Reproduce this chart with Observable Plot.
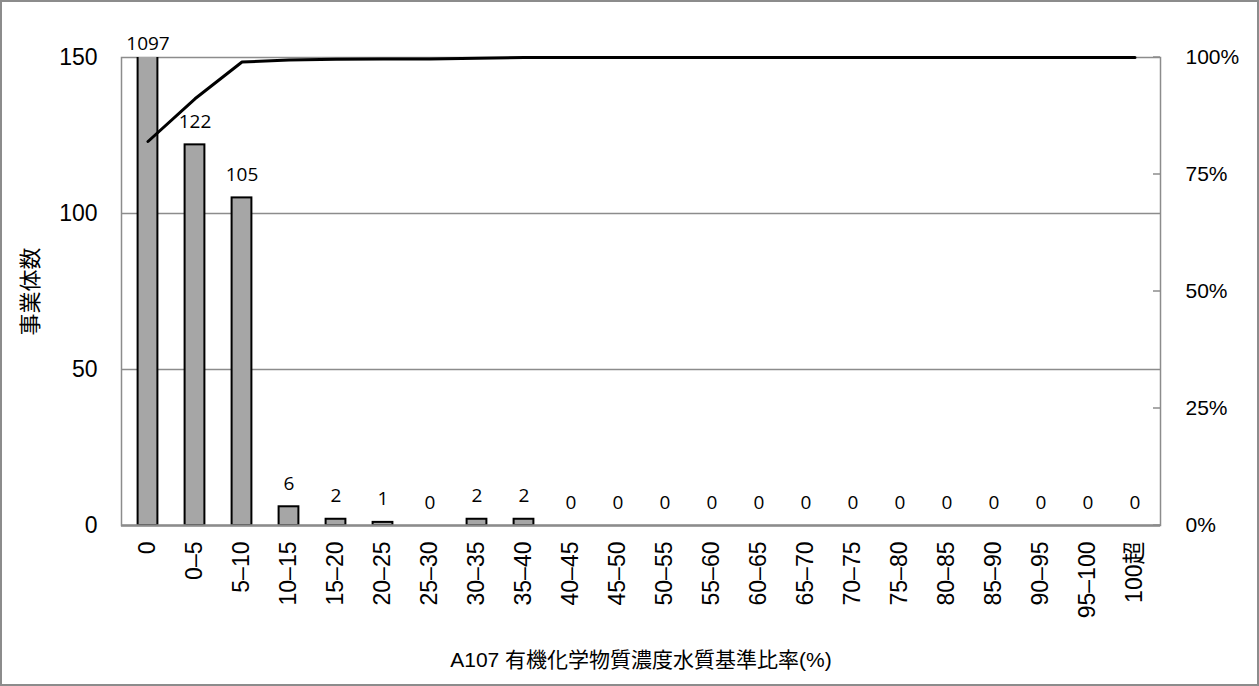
<!DOCTYPE html>
<html>
<head>
<meta charset="utf-8">
<script src="https://cdn.jsdelivr.net/npm/d3@7"></script>
<script src="https://cdn.jsdelivr.net/npm/@observablehq/plot@0.6"></script>
<style>
  html, body { margin: 0; padding: 0; background: #fff; }
  #chart svg { display: block; outline: 2px solid #8c8c8c; outline-offset: -2px; }
</style>
</head>
<body>
<div id="chart"></div>
<script>
const categories = ["0","0–5","5–10","10–15","15–20","20–25","25–30","30–35","35–40","40–45","45–50","50–55","55–60","60–65","65–70","70–75","75–80","80–85","85–90","90–95","95–100","100超"];
const counts = [1097,122,105,6,2,1,0,2,2,0,0,0,0,0,0,0,0,0,0,0,0,0];
const leftTicks = [0,50,100,150];
const rightTicks = [0,25,50,75,100];
const yTitle = "事業体数";
const xTitle = "A107 有機化学物質濃度水質基準比率(%)";

const yMax = 150;
const total = d3.sum(counts);
const cum = Array.from(d3.cumsum(counts));
const data = categories.map((c, i) => ({cat: c, n: counts[i], pct: cum[i] / total * 100}));

const axisFont = "'Liberation Sans', 'Noto Sans CJK JP', sans-serif";
const labelFont = "'Open Sans', sans-serif";

const chart = Plot.plot({
  width: 1259,
  height: 686,
  marginLeft: 121,
  marginRight: 99,
  marginTop: 57,
  marginBottom: 161,
  style: {fontFamily: axisFont, fontSize: "22px", color: "#000", background: "#fff"},
  x: {domain: categories, padding: 0, label: null},
  y: {domain: [0, yMax], label: null},
  marks: [
    Plot.gridY(leftTicks.filter(d => d > 0 && d < yMax), {stroke: "#8c8c8c", strokeOpacity: 1, strokeWidth: 1.5}),
    Plot.frame({stroke: "#8c8c8c", strokeWidth: 1.5}),
    Plot.barY(data, {x: "cat", y: "n", fill: "#a6a6a6", stroke: "#000", strokeWidth: 2, insetLeft: 13.6, insetRight: 13.6, clip: true}),
    Plot.ruleY([0], {stroke: "#8c8c8c", strokeWidth: 2.5}),
    Plot.lineY(data, {x: "cat", y: d => d.pct / 100 * yMax, stroke: "#000", strokeWidth: 3}),
    Plot.text(data.filter(d => d.n <= yMax), {x: "cat", y: "n", text: d => String(d.n), dy: -23, fontFamily: labelFont, fontSize: 19, fill: "#000"}),
    Plot.text(data.filter(d => d.n > yMax), {x: "cat", y: () => yMax, text: d => String(d.n), dy: -14, fontFamily: labelFont, fontSize: 19, fill: "#000"}),
    Plot.axisY(leftTicks, {anchor: "left", tickSize: 0, tickPadding: 24, label: null, fontSize: 23}),
    Plot.axisY(rightTicks.map(p => p / 100 * yMax), {anchor: "right", tickSize: 0, tickPadding: 25, textAnchor: "start", tickFormat: d => Math.round(d / yMax * 100) + "%", label: null, fontSize: 21}),
    Plot.axisX({anchor: "bottom", tickSize: 0, tickPadding: 16, tickRotate: -90, label: null, fontSize: 23}),
    Plot.text([yTitle], {frameAnchor: "left", dx: -91, rotate: -90, textAnchor: "middle", fontSize: 22, fill: "#000", fontFamily: axisFont}),
    Plot.text([xTitle], {frameAnchor: "bottom", dy: 141, textAnchor: "middle", fontSize: 21, fill: "#000", fontFamily: axisFont})
  ]
});

// inward tick marks on the right axis, drawn at positions given by the y scale
const yScale = chart.scale("y");
const svg = d3.select(chart);
const xRight = 1259 - 99;
svg.append("g").attr("stroke", "#8c8c8c").attr("stroke-width", 1.5)
  .selectAll("line").data(rightTicks).join("line")
  .attr("x1", xRight - 7).attr("x2", xRight)
  .attr("y1", p => yScale.apply(p / 100 * yMax)).attr("y2", p => yScale.apply(p / 100 * yMax));

document.getElementById("chart").appendChild(chart);
</script>
</body>
</html>
